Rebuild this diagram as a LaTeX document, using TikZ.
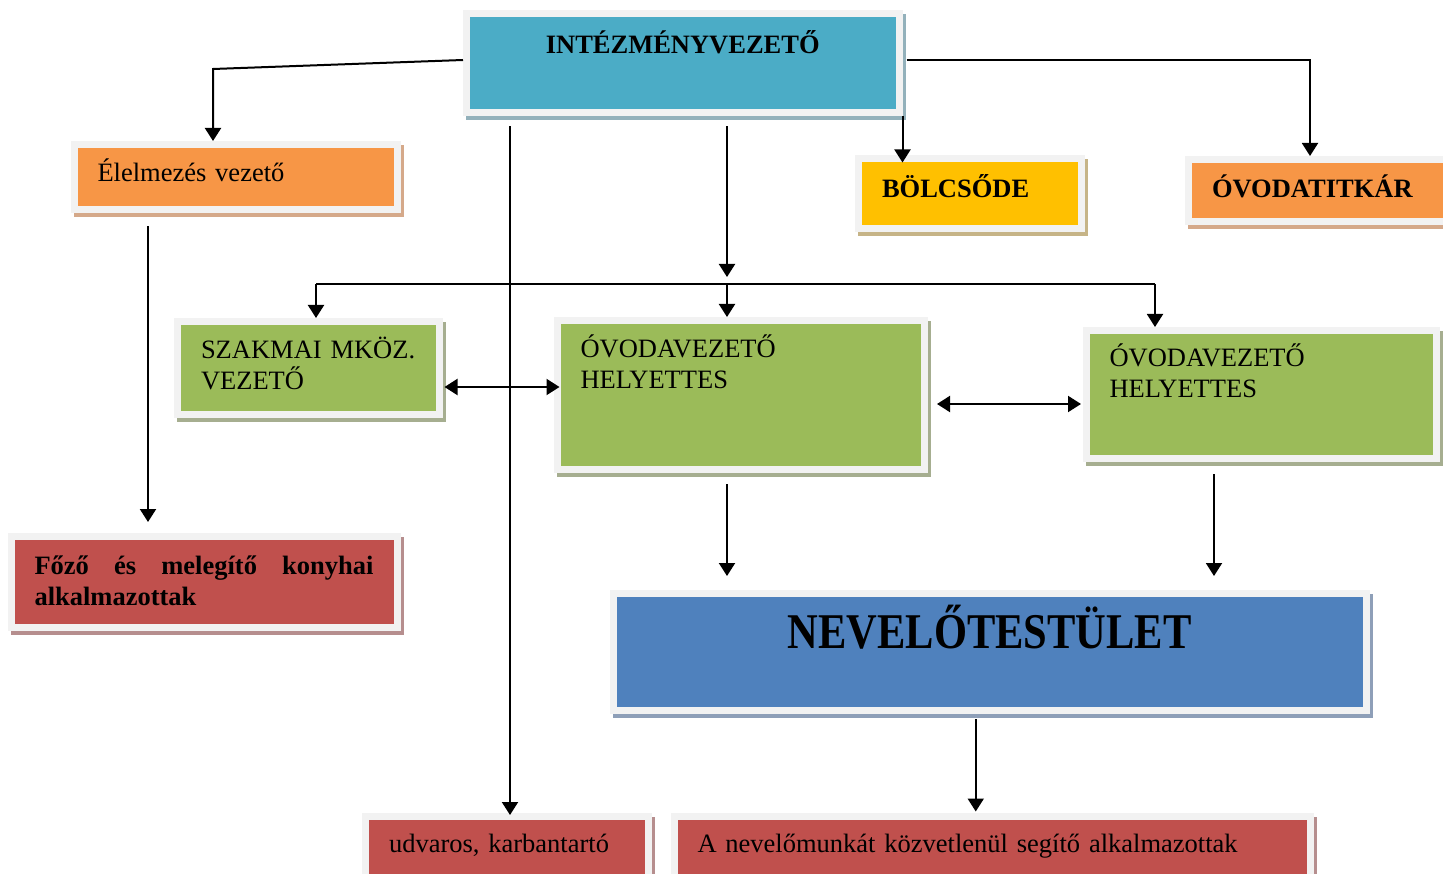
\documentclass[tikz,border=0pt]{standalone}
\usepackage{fontspec}
\setmainfont{Liberation Serif}
\newfontfamily\narrowfont[FakeStretch=0.85]{Liberation Serif}
\usepackage{tikz}
\usetikzlibrary{arrows.meta}
\usetikzlibrary{calc}

\definecolor{framegray}{HTML}{F2F2F2}
\definecolor{aqua}{HTML}{4BACC6}
\definecolor{aquashade}{HTML}{93B1BB}
\definecolor{orangebox}{HTML}{F79646}
\definecolor{orangeshade}{HTML}{D5A98A}
\definecolor{goldbox}{HTML}{FFC000}
\definecolor{goldshade}{HTML}{C6B487}
\definecolor{greenbox}{HTML}{9BBB59}
\definecolor{greenshade}{HTML}{A6AE90}
\definecolor{redbox}{HTML}{C0504D}
\definecolor{redshade}{HTML}{B68E8E}
\definecolor{bluebox}{HTML}{4F81BD}
\definecolor{blueshade}{HTML}{8E9FB8}

\hyphenpenalty=10000

\begin{document}
\begin{tikzpicture}[x=1pt, y=-1pt,
    box/.style 2 args={draw=framegray, line width=7pt, fill=#1,
        preaction={draw=#2, fill=#2, transform canvas={shift={(3pt,-4pt)}}},
        anchor=north west, inner xsep=23.5pt, inner ysep=0pt, align=left,
        text height=37.5pt, font=\fontsize{26.5}{31}\selectfont},
    link/.style={line width=2pt},
    arrowlink/.style={link, -{Triangle[length=13pt, width=16pt]}},
    bothlink/.style={link, {Triangle[length=13pt, width=16pt]}-{Triangle[length=13pt, width=16pt]}}]
    \useasboundingbox (0,0) rectangle (1443,874);
    \clip (0,0) rectangle (1443,874);

    % boxes
    \node[box={aqua}{aquashade}, align=center, text width=385.5pt, text height=39.5pt, text depth=59.5pt,
        font=\bfseries\fontsize{26.5}{31}\selectfont] (intez) at (463,10.5) {INTÉZMÉNYVEZETŐ};
    \node[box={orangebox}{orangeshade}, text width=276pt, text depth=28pt] (elelm) at (70.5,141) {Élelmezés vezető};
    \node[box={goldbox}{goldshade}, text width=176pt, text height=38.5pt, text depth=31.5pt,
        font=\bfseries\fontsize{26.5}{31}\selectfont] (bolcs) at (855,155.5) {BÖLCSŐDE};
    \node[box={orangebox}{orangeshade}, text width=264.5pt, text height=38.5pt, text depth=24pt,
        font=\bfseries\fontsize{26.5}{31}\selectfont] (titkar) at (1185,156) {ÓVODATITKÁR};
    \node[box={greenbox}{greenshade}, text width=214.5pt, text height=37pt, text depth=56pt] (szakm) at (174,318)
        {\mbox{SZAKMAI MKÖZ.}\\VEZETŐ};
    \node[box={greenbox}{greenshade}, text width=320.5pt, text depth=111.5pt] (hely1) at (553.5,317)
        {ÓVODAVEZETŐ\\HELYETTES};
    \node[box={greenbox}{greenshade}, text width=303.5pt, text height=36.5pt, text depth=91pt] (hely2) at (1082.5,327)
        {ÓVODAVEZETŐ\\HELYETTES};
    \node[box={redbox}{redshade}, align=justify, text width=339pt, text depth=53.5pt,
        font=\bfseries\fontsize{26.5}{31}\selectfont] (fozo) at (7.5,533)
        {Főző és melegítő konyhai alkalmazottak};
    \node[box={bluebox}{blueshade}, align=center, text width=706.5pt, text height=54.5pt, text depth=62.5pt,
        font=\narrowfont\bfseries\fontsize{50}{55}\selectfont] (nevel) at (609.5,590) {NEVELŐTESTÜLET};
    \node[box={redbox}{redshade}, text width=236pt, text height=36.5pt, text depth=37.5pt] (udvar) at (362,812.5)
        {udvaros, karbantartó};
    \node[box={redbox}{redshade}, text width=589pt, text height=36.5pt, text depth=37.5pt] (anev) at (670.5,812.5)
        {A nevelőmunkát közvetlenül segítő alkalmazottak};

    % connectors
    \coordinate (kl) at (213,69);
    \coordinate (kr) at (1310,60);
    \coordinate (busL) at (316,284);
    \coordinate (busM) at (727,284);
    \coordinate (busR) at (1155,284);

    \draw[arrowlink] ($(intez.west)+(0,-3.5)$) -- (kl) -- (kl |- elelm.north);
    \draw[arrowlink] ($(intez.east |- kr)+(4,0)$) -- (kr) -- (kr |- titkar.north);
    \draw[arrowlink] (intez.south east) -- ($(intez.south east |- bolcs.north)+(0,7)$);
    \draw[arrowlink] ($(intez.south -| busM)+(0,10)$) -- ($(busM)+(0,-7)$);
    \draw[link] (busL) -- (busR);
    \draw[arrowlink] (busL) -- (busL |- szakm.north);
    \draw[arrowlink] (busM) -- (busM |- hely1.north);
    \draw[arrowlink] (busR) -- (busR |- hely2.north);
    \draw[arrowlink] ($(intez.south west)+(47,10)$) -- ($(udvar.north west)+(148,2.5)$);
    \draw[arrowlink] ($(elelm.south west)+(77.5,13)$) -- ($(fozo.north west)+(140.5,-11)$);
    \draw[bothlink] ($(szakm.east)+(2,19)$) -- ($(hely1.west |- szakm.east)+(6,19)$);
    \draw[bothlink] ($(hely1.east)+(9,9)$) -- ($(hely2.west |- hely1.east)+(-1.5,9)$);
    \draw[arrowlink] ($(hely1.south west)+(173.5,11)$) -- ($(hely1.south west |- nevel.north)+(173.5,-14)$);
    \draw[arrowlink] ($(hely2.south west)+(131.5,12.5)$) -- ($(hely2.south west |- nevel.north)+(131.5,-14)$);
    \draw[arrowlink] ($(nevel.south)+(-14,5)$) -- ($(nevel.south |- anev.north)+(-14,-1)$);
\end{tikzpicture}
\end{document}
